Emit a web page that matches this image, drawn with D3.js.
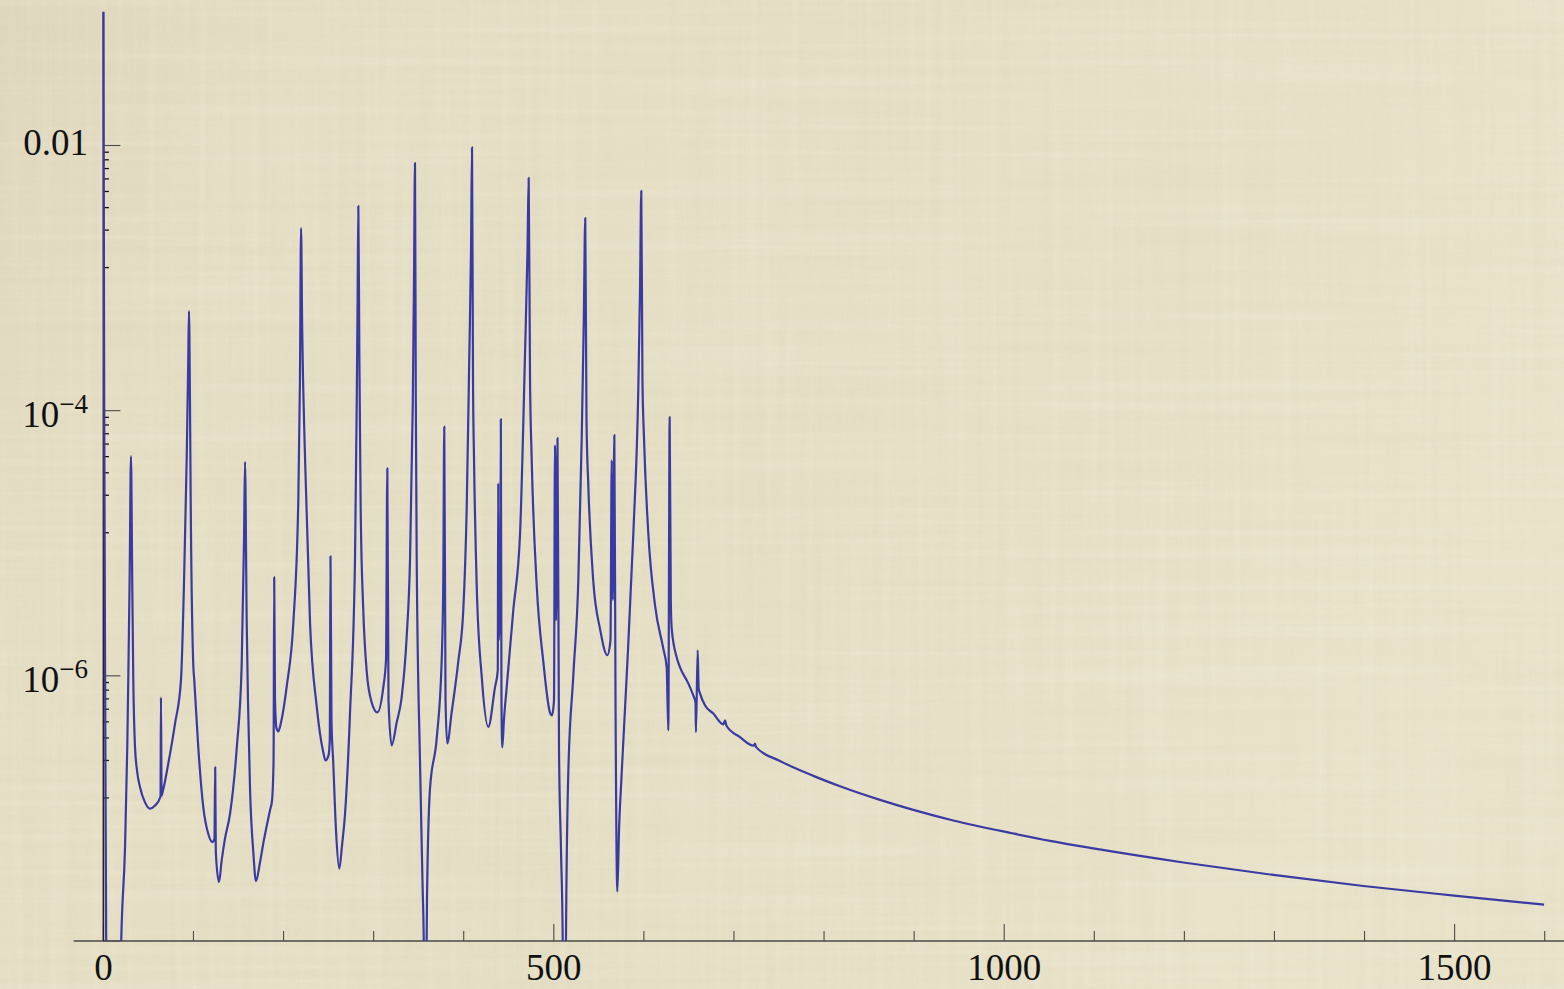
<!DOCTYPE html>
<html>
<head>
<meta charset="utf-8">
<script src="https://cdn.jsdelivr.net/npm/d3@7/dist/d3.min.js"></script>
<style>
  html, body { margin: 0; padding: 0; background: #e5dfc5; }
  svg { display: block; }
  text { font-family: "Liberation Serif", "DejaVu Serif", serif; fill: #111; }
</style>
</head>
<body>
<svg id="chart" width="1564" height="989"></svg>
<script>
// Spectrum: frequency (x) against amplitude (log y)
const freq = [
  0, 0.9, 2.0, 3.2, 11.5, 19.3, 19.8, 24.0, 26.5, 27.6, 29.1, 30.6, 32.0, 33.2, 35.1, 37.3, 40.6, 46.2, 51.7, 57.3,
  63.4, 63.9, 64.6, 66.2, 72.0, 79.5, 86.1, 89.5, 92.5, 94.2, 95.0, 96.1, 96.9, 99.8, 100.9, 105.3, 110.9, 116.4, 120.9, 123.3,
  124.1, 124.8, 128.3, 131.3, 135.0, 140.6, 148.0, 153.5, 156.1, 157.2, 159.1, 160.5, 162.8, 166.4, 169.4, 173.8, 177.5, 184.9, 187.2, 188.9,
  189.6, 190.5, 192.2, 194.2, 197.2, 203.5, 210.8, 216.4, 218.2, 219.4, 220.7, 223.8, 229.4, 236.8, 244.1, 246.6, 249.9, 251.3, 252.1, 253.2,
  255.2, 258.2, 261.9, 264.9, 268.2, 273.8, 279.3, 281.2, 282.2, 283.0, 284.1, 285.6, 288.5, 292.3, 297.8, 304.1, 310.7, 313.7, 315.2, 316.5,
  320.0, 325.6, 331.1, 336.7, 340.4, 343.4, 344.8, 345.9, 346.8, 347.8, 351.5, 354.2, 355.9, 357.3, 358.7, 359.2, 362.5, 370.0, 375.5, 377.3,
  378.4, 379.8, 381.7, 386.6, 394.0, 399.5, 403.3, 406.2, 408.1, 409.2, 410.3, 411.4, 414.4, 420.0, 427.3, 434.7, 437.8, 438.3, 438.9, 440.7,
  441.2, 441.9, 442.8, 444.6, 447.7, 455.0, 462.5, 468.0, 470.8, 472.1, 473.6, 475.4, 481.0, 488.3, 495.7, 498.0, 500.2, 501.3, 502.5, 504.1,
  505.8, 508.0, 509.9, 511.8, 513.5, 516.1, 521.6, 527.2, 531.0, 533.3, 534.9, 536.3, 538.3, 543.8, 551.3, 559.4, 562.9, 564.3, 565.5, 567.2,
  568.5, 570.5, 572.4, 575.4, 580.9, 588.3, 593.8, 595.7, 597.1, 598.4, 600.1, 604.9, 612.3, 621.5, 625.3, 627.1, 628.6, 629.9, 630.9, 636.4,
  640.1, 649.3, 654.8, 657.3, 657.8, 659.7, 660.8, 662.3, 667.8, 677.1, 688.2, 690.1, 691.7, 706.7, 722.0, 723.3, 724.6, 751.1, 788.1, 817.7,
  862.1, 899.1, 943.5, 1010.1, 1050.9, 1099.0, 1198.9, 1298.8, 1398.7, 1499.4, 1599.3
];
const amplitude = [
  1.02e-1, 1.20e-4, 6.5e-7, 7.1e-9, 1e-11, 7.1e-9, 1.01e-8, 5.1e-8, 2.9e-7, 9.25e-7, 5.26e-6, 4.54e-5, 5.26e-6, 9.25e-7, 2.9e-7, 1.94e-7, 1.45e-7, 1.11e-7, 9.95e-8, 1.05e-7,
  1.23e-7, 6.89e-7, 1.25e-7, 1.37e-7, 2.17e-7, 4.36e-7, 9.25e-7, 5.08e-6, 4.46e-5, 2.41e-4, 5.64e-4, 1.20e-4, 2.15e-5, 1.20e-6, 9.25e-7, 2.9e-7, 1.02e-7, 6.44e-8, 5.57e-8, 5.94e-8,
  2.04e-7, 4.66e-8, 2.78e-8, 4.05e-8, 5.94e-8, 9.12e-8, 2.84e-7, 1.20e-6, 1.05e-5, 4.11e-5, 2.49e-6, 6.53e-7, 1.39e-7, 4.69e-8, 2.83e-8, 3.91e-8, 5.45e-8, 9.66e-8, 1.15e-7, 2.30e-7,
  5.54e-6, 6.53e-7, 4.02e-7, 3.81e-7, 4.46e-7, 8.34e-7, 2.49e-6, 2.15e-5, 1.70e-4, 2.38e-3, 4.05e-4, 4.46e-5, 2.49e-6, 5.89e-7, 2.65e-7, 2.30e-7, 2.51e-7, 3.26e-7, 7.98e-6, 4.61e-7,
  2.19e-7, 6.83e-8, 3.52e-8, 5.26e-8, 9.02e-8, 5.30e-7, 7.57e-6, 1.08e-4, 6.82e-4, 3.49e-3, 2.86e-4, 1.84e-5, 3.12e-6, 1.08e-6, 6.31e-7, 5.30e-7, 8.19e-7, 1.31e-6, 3.68e-5, 6.53e-7,
  2.99e-7, 4.46e-7, 6.89e-7, 1.99e-6, 7.57e-6, 1.08e-4, 9.66e-4, 7.38e-3, 1.20e-4, 7.57e-6, 2.19e-7, 2.86e-8, 7.1e-9, 1e-11, 7.1e-9, 2.02e-8, 1.39e-7, 3.37e-7, 1.29e-6, 5.26e-6,
  7.57e-5, 6.53e-7, 3.09e-7, 5.30e-7, 1.29e-6, 3.12e-6, 1.84e-5, 2.62e-4, 1.63e-3, 9.68e-3, 1.70e-4, 4.46e-5, 4.82e-6, 9.82e-7, 4.12e-7, 8.19e-7, 1.10e-6, 2.84e-5, 1.85e-6, 3.72e-6,
  8.63e-5, 6.53e-7, 2.88e-7, 4.61e-7, 8.19e-7, 3.12e-6, 1.17e-5, 2.62e-4, 1.63e-3, 5.69e-3, 1.70e-4, 4.46e-5, 4.82e-6, 1.29e-6, 5.30e-7, 5.03e-7, 6.53e-7, 5.50e-5, 2.62e-6, 6.20e-5,
  2.74e-7, 4.82e-8, 1.0e-8, 1e-11, 1.0e-8, 1.87e-7, 9.91e-7, 5.2e-6, 6.31e-5, 4.82e-4, 2.84e-3, 8.47e-5, 2.74e-5, 5.2e-6, 2.26e-6, 1.43e-6, 1.85e-6, 4.23e-5, 3.72e-6, 6.53e-5,
  6.53e-7, 2.36e-8, 6.83e-8, 1.87e-7, 9.91e-7, 1.19e-5, 1.45e-4, 8.12e-4, 4.54e-3, 1.70e-4, 6.31e-5, 1.19e-5, 3.43e-6, 1.61e-6, 1.16e-6, 3.88e-7, 8.93e-5, 3.72e-6, 2.26e-6, 1.38e-6,
  1.16e-6, 8.77e-7, 7.13e-7, 6.31e-7, 3.77e-7, 1.56e-6, 8.05e-7, 7.38e-7, 5.99e-7, 5.19e-7, 4.31e-7, 4.61e-7, 4.20e-7, 3.45e-7, 2.97e-7, 3.08e-7, 2.90e-7, 2.28e-7, 1.76e-7, 1.47e-7,
  1.16e-7, 9.75e-8, 8.11e-8, 6.47e-8, 5.69e-8, 4.99e-8, 3.91e-8, 3.15e-8, 2.60e-8, 2.20e-8, 1.88e-8
];

// Axis ticks
const xMajorTicks = [0, 500, 1000, 1500];
const xMinorTicks = [100, 200, 300, 400, 600, 700, 800, 900, 1100, 1200, 1300, 1400, 1600];
const yMajorTicks = [1e-8, 1e-6, 1e-4, 1e-2];
const yTickLabels = [
  { value: 1e-2, base: "0.01", exp: null },
  { value: 1e-4, base: "10", exp: "\u22124" },
  { value: 1e-6, base: "10", exp: "\u22126" }
];

const W = 1564, H = 989;
const svg = d3.select("#chart");

// ---------- background (linen-like paper) ----------
const defs = svg.append("defs");
function streakFilter(id, freqStr, seed, slope, offset, rgb) {
  const f = defs.append("filter").attr("id", id)
    .attr("x", 0).attr("y", 0).attr("width", W).attr("height", H)
    .attr("filterUnits", "userSpaceOnUse");
  f.append("feTurbulence").attr("type", "fractalNoise")
    .attr("baseFrequency", freqStr).attr("numOctaves", 2).attr("seed", seed);
  f.append("feColorMatrix").attr("type", "matrix")
    .attr("values", `0 0 0 0 ${rgb[0]}  0 0 0 0 ${rgb[1]}  0 0 0 0 ${rgb[2]}  ${slope} 0 0 0 ${offset}`);
}
streakFilter("streakH", "0.002 0.12", 4, 2.0, -0.95, [1, 1, 0.92]);
streakFilter("streakV", "0.12 0.002", 9, 2.0, -0.95, [1, 1, 0.92]);
streakFilter("streakHd", "0.003 0.09", 13, 2.0, -0.95, [0.6, 0.53, 0.4]);
streakFilter("streakVd", "0.09 0.003", 21, 2.0, -0.95, [0.6, 0.53, 0.4]);

svg.append("rect").attr("width", W).attr("height", H).attr("fill", "#e4dec4");
const bgGrad = defs.append("linearGradient").attr("id", "bgShade")
  .attr("x1", 0).attr("y1", 0).attr("x2", 1).attr("y2", 0.3);
bgGrad.append("stop").attr("offset", "0%").attr("stop-color", "#d9d0b6").attr("stop-opacity", 0.55);
bgGrad.append("stop").attr("offset", "25%").attr("stop-color", "#e3dcc2").attr("stop-opacity", 0);
bgGrad.append("stop").attr("offset", "100%").attr("stop-color", "#ebe7cd").attr("stop-opacity", 0.5);
svg.append("rect").attr("width", W).attr("height", H).attr("fill", "url(#bgShade)");

const tex = svg.append("g");
[["streakH", 0.16], ["streakV", 0.13], ["streakHd", 0.08], ["streakVd", 0.07]].forEach(([id, op]) => {
  tex.append("rect").attr("width", W).attr("height", H)
    .attr("filter", `url(#${id})`).attr("opacity", op);
});

// ---------- scales ----------
const x = d3.scaleLinear().domain([0, 1600]).range([103.4, 1544.7]);
const y = d3.scaleLog().domain([1e-8, 1e-2]).range([941, 145.5]);

// ---------- plot clip ----------
defs.append("clipPath").attr("id", "plotClip")
  .append("rect")
  .attr("x", x(0) - 2).attr("y", 0)
  .attr("width", W - x(0) + 2).attr("height", y(1e-8));

// ---------- axes ----------
const axisColor = "#4a4a46";
const axes = svg.append("g");

// x axis line spans a little beyond the data range
axes.append("line")
  .attr("x1", x(-33)).attr("x2", W)
  .attr("y1", y(1e-8)).attr("y2", y(1e-8))
  .attr("stroke", axisColor).attr("stroke-width", 1.6);

axes.selectAll(".xmaj").data(xMajorTicks).enter().append("line")
  .attr("x1", d => x(d)).attr("x2", d => x(d))
  .attr("y1", y(1e-8)).attr("y2", y(1e-8) - 17)
  .attr("stroke", axisColor).attr("stroke-width", 1.1);
axes.selectAll(".xmin").data(xMinorTicks).enter().append("line")
  .attr("x1", d => x(d)).attr("x2", d => x(d))
  .attr("y1", y(1e-8)).attr("y2", y(1e-8) - 10)
  .attr("stroke", axisColor).attr("stroke-width", 1.1);

axes.selectAll(".xlab").data(xMajorTicks).enter().append("text")
  .attr("x", d => x(d)).attr("y", 980)
  .attr("text-anchor", "middle")
  .attr("font-size", 37)
  .text(d => d);

// y axis line
axes.append("line")
  .attr("x1", x(0)).attr("x2", x(0))
  .attr("y1", 12).attr("y2", y(1e-8))
  .attr("stroke", "#222").attr("stroke-width", 1.6);

axes.selectAll(".ymaj").data(yMajorTicks).enter().append("line")
  .attr("x1", x(0)).attr("x2", x(0) + 17)
  .attr("y1", d => y(d)).attr("y2", d => y(d))
  .attr("stroke", axisColor).attr("stroke-width", 1.1);

// minor ticks: eight evenly spaced values between consecutive major ticks
const yMinorTicks = [];
for (let i = 0; i < yMajorTicks.length - 1; i++) {
  const a = yMajorTicks[i], b = yMajorTicks[i + 1];
  for (let k = 1; k <= 8; k++) yMinorTicks.push(a + k * (b - a) / 9);
}
axes.selectAll(".ymin").data(yMinorTicks).enter().append("line")
  .attr("x1", x(0)).attr("x2", x(0) + 5.5)
  .attr("y1", d => y(d)).attr("y2", d => y(d))
  .attr("stroke", "#111").attr("stroke-width", 1.3);

const ylab = axes.selectAll(".ylab").data(yTickLabels).enter().append("text")
  .attr("x", 88)
  .attr("text-anchor", "end")
  .attr("font-size", 37);
ylab.each(function (d) {
  const t = d3.select(this);
  if (d.exp === null) {
    t.attr("y", y(d.value) + 9).text(d.base);
  } else {
    t.attr("y", y(d.value) + 16);
    t.append("tspan").text(d.base);
    t.append("tspan").attr("font-size", 27).attr("dy", -14).text(d.exp);
  }
});

// ---------- curve ----------
const series = freq.map((f, i) => ({ f, a: amplitude[i] }));
const line = d3.line()
  .x(d => x(d.f))
  .y(d => y(d.a))
  .curve(d3.curveMonotoneX);

svg.append("g").attr("clip-path", "url(#plotClip)")
  .append("path")
  .datum(series)
  .attr("d", line)
  .attr("fill", "none")
  .attr("stroke", "#3a3aa3")
  .attr("stroke-width", 2.2)
  .attr("stroke-linejoin", "round");
</script>
</body>
</html>
